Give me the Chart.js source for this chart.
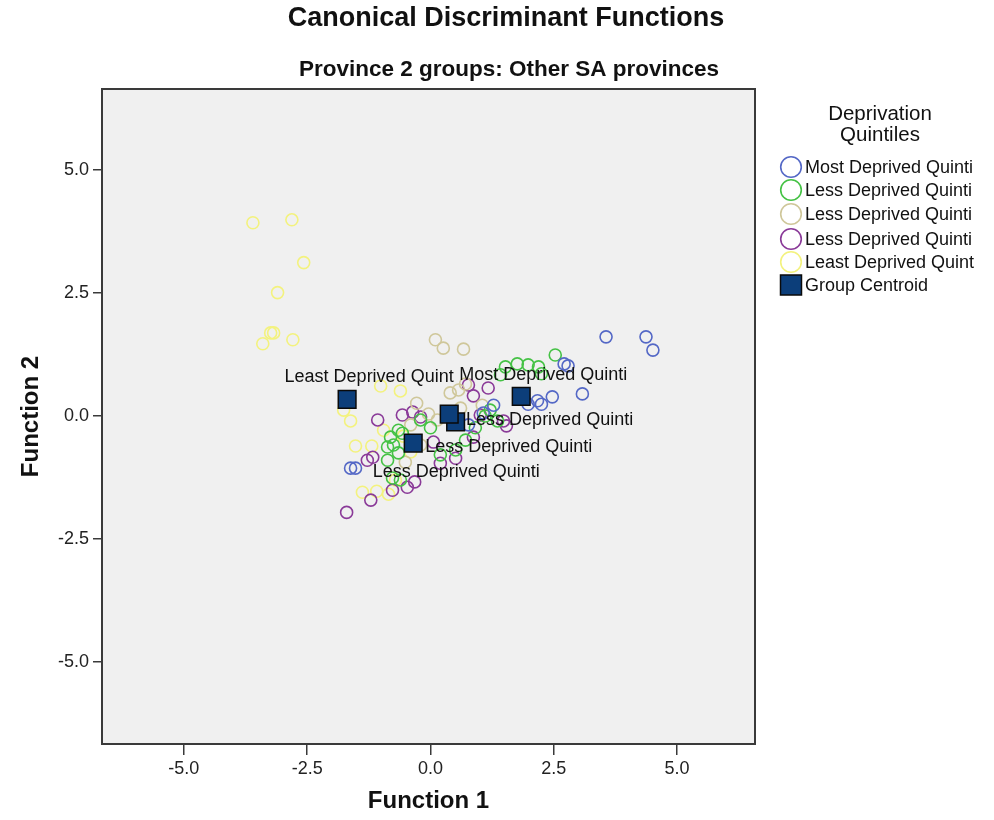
<!DOCTYPE html>
<html>
<head>
<meta charset="utf-8">
<title>Canonical Discriminant Functions</title>
<script src="https://cdn.jsdelivr.net/npm/chart.js@4/dist/chart.umd.min.js"></script>
<style>
  html, body { margin: 0; padding: 0; background: #ffffff; }
  #wrap { width: 994px; height: 820px; position: relative; }
  canvas { display: block; }
</style>
</head>
<body>
<div id="wrap"><canvas id="chart" width="994" height="820"></canvas></div>
<script>
// Discriminant scores per deprivation quintile (Function 1 = x, Function 2 = y)
const seriesNames = [
  'Most Deprived Quinti',
  'Less Deprived Quinti',
  'Less Deprived Quinti',
  'Less Deprived Quinti',
  'Least Deprived Quint'
];

const mostX = [3.56, 4.37, 4.51, 2.71, 2.79, 3.08, 2.47, 2.17, 2.25, 1.28, 1.07, 0.77, -1.62, -1.52, 1.98];
const mostY = [1.61, 1.61, 1.34, 1.06, 1.02, 0.45, 0.39, 0.31, 0.24, 0.22, 0.06, -0.18, -1.06, -1.06, 0.24];

const q2X = [2.53, 1.52, 1.76, 1.98, 2.19, 2.25, 1.42, 1.21, 1.11, 1.36, 0.91, 0.20, 0.00, -0.57, -0.81, -0.65, -0.87, -0.75, -0.65, -0.87, -0.77, -0.61, 0.71, 0.51, -0.20];
const q2Y = [1.24, 1.00, 1.06, 1.04, 1.00, 0.86, 0.84, 0.12, 0.00, -0.10, -0.24, -0.79, -0.24, -0.35, -0.43, -0.29, -0.63, -0.59, -0.75, -0.90, -1.26, -1.30, -0.49, -0.69, -0.08];

const q3X = [0.10, 0.26, 0.67, 0.40, 0.57, 0.71, -0.28, -0.04, 0.14, -0.40, -0.20, 1.05, -0.51, 0.61];
const q3Y = [1.55, 1.38, 1.36, 0.47, 0.53, 0.65, 0.26, 0.04, -0.08, -0.18, -0.59, 0.22, -0.94, 0.16];

const q4X = [0.77, 1.17, 0.87, -1.07, -0.57, -0.36, -0.20, 0.06, 1.48, 1.54, 0.87, -1.28, -1.17, 0.20, 0.51, -0.47, -0.32, -0.77, -1.21, -1.70, 1.01];
const q4Y = [0.63, 0.57, 0.41, -0.08, 0.02, 0.08, -0.02, -0.53, -0.10, -0.20, -0.43, -0.90, -0.84, -0.96, -0.86, -1.45, -1.34, -1.51, -1.71, -1.96, 0.02];

const leastX = [-3.60, -2.81, -2.57, -3.10, -3.24, -3.18, -3.40, -2.79, -1.01, -0.61, -1.62, -0.95, -1.52, -1.19, -1.38, -1.09, -0.85, -0.71, -0.55, -0.40, -1.76];
const leastY = [3.93, 3.99, 3.12, 2.51, 1.69, 1.69, 1.47, 1.55, 0.61, 0.51, -0.10, -0.29, -0.61, -0.61, -1.55, -1.53, -1.59, -1.30, -0.41, -0.73, 0.12];

// Group centroids, in the same order as seriesNames
const centroidName = 'Group Centroid';
const centroidX = [1.84, 0.51, 0.38, -0.35, -1.69];
const centroidY = [0.40, -0.12, 0.04, -0.55, 0.34];
const centroidLabels = seriesNames;

// Axis tick values
const tickValues = [-5, -2.5, 0, 2.5, 5];

// ---------------------------------------------------------------------
const FONT = "'Liberation Sans', Arial, Helvetica, sans-serif";
const colors = ['#5468c6', '#45c245', '#cfc79a', '#8a3a98', '#f3f27e'];
const centroidFill = '#0c3e7a';

const zip = (xs, ys) => xs.map((x, i) => ({ x: x, y: ys[i] }));
const groupPoints = [zip(mostX, mostY), zip(q2X, q2Y), zip(q3X, q3Y), zip(q4X, q4Y), zip(leastX, leastY)];

const datasets = groupPoints.map((pts, i) => ({
  label: seriesNames[i],
  data: pts,
  pointStyle: 'circle',
  pointRadius: 6,
  pointBorderWidth: 1.6,
  borderColor: colors[i],
  pointBorderColor: colors[i],
  backgroundColor: 'rgba(0,0,0,0)',
  pointBackgroundColor: 'rgba(0,0,0,0)',
  order: 1
}));
datasets.push({
  label: centroidName,
  data: zip(centroidX, centroidY),
  pointStyle: 'rect',
  pointRadius: 12.5,
  pointBorderWidth: 1.5,
  pointBorderColor: '#0a0a0a',
  pointBackgroundColor: centroidFill,
  backgroundColor: centroidFill,
  borderColor: '#0a0a0a',
  order: -1
});

// Label placement around each centroid marker (pixels: centre x, text baseline)
const labelOffsets = [[22, -16], [94, 3], [7, 63], [95.5, 9], [22, -17]];

const plotPanel = {
  id: 'plotPanel',
  beforeDraw(chart) {
    const { ctx, chartArea: a } = chart;
    ctx.save();
    ctx.fillStyle = '#f0f0f0';
    ctx.fillRect(a.left, a.top, a.right - a.left, a.bottom - a.top);
    ctx.restore();
  },
  afterDatasetsDraw(chart) {
    const { ctx } = chart;
    const meta = chart.getDatasetMeta(chart.data.datasets.length - 1);
    ctx.save();
    ctx.font = '18px ' + FONT;
    ctx.fillStyle = '#111111';
    ctx.textAlign = 'center';
    ctx.textBaseline = 'alphabetic';
    meta.data.forEach((el, i) => {
      const off = labelOffsets[i];
      ctx.fillText(centroidLabels[i], el.x + off[0], el.y + off[1]);
    });
    ctx.restore();
  },
  afterDraw(chart) {
    const { ctx, chartArea: a } = chart;
    ctx.save();
    // frame around the plot panel
    ctx.strokeStyle = '#3a3a3a';
    ctx.lineWidth = 2;
    ctx.strokeRect(a.left, a.top, a.right - a.left, a.bottom - a.top);

    // titles
    ctx.fillStyle = '#111111';
    ctx.textAlign = 'center';
    ctx.textBaseline = 'middle';
    ctx.font = 'bold 27px ' + FONT;
    ctx.fillText('Canonical Discriminant Functions', 506, 19);
    ctx.font = 'bold 22.5px ' + FONT;
    ctx.fillText('Province 2 groups: Other SA provinces', 509, 70);

    // legend
    ctx.font = '20.5px ' + FONT;
    ctx.textBaseline = 'alphabetic';
    ctx.fillText('Deprivation', 880, 120);
    ctx.fillText('Quintiles', 880, 141);

    const itemY = [167, 190, 214, 239, 262, 285];
    const mx = 791;
    ctx.font = '18px ' + FONT;
    ctx.textAlign = 'left';
    ctx.textBaseline = 'middle';
    chart.data.datasets.forEach((ds, i) => {
      const y = itemY[i];
      if (ds.pointStyle === 'rect') {
        ctx.fillStyle = ds.pointBackgroundColor;
        ctx.fillRect(mx - 10.5, y - 10, 21, 20);
        ctx.strokeStyle = '#0a0a0a';
        ctx.lineWidth = 1.5;
        ctx.strokeRect(mx - 10.5, y - 10, 21, 20);
      } else {
        ctx.beginPath();
        ctx.arc(mx, y, 10.3, 0, Math.PI * 2);
        ctx.strokeStyle = ds.pointBorderColor;
        ctx.lineWidth = 1.6;
        ctx.stroke();
      }
      ctx.fillStyle = '#111111';
      ctx.fillText(ds.label, 805, y + 1);
    });
    ctx.restore();
  }
};

const tickFont = { family: FONT, size: 18 };
const axisTitleFont = { family: FONT, size: 24, weight: 'bold' };

new Chart(document.getElementById('chart'), {
  type: 'scatter',
  data: { datasets: datasets },
  options: {
    responsive: false,
    animation: false,
    events: [],
    layout: { padding: { top: 89, right: 239, left: 0, bottom: 0 } },
    plugins: {
      legend: { display: false },
      title: { display: false },
      tooltip: { enabled: false }
    },
    scales: {
      x: {
        type: 'linear',
        min: -6.66,
        max: 6.58,
        afterBuildTicks: (s) => { s.ticks = tickValues.map(v => ({ value: v })); },
        afterFit: (s) => { s.height = 76; },
        ticks: {
          autoSkip: false,
          maxRotation: 0,
          padding: 3,
          color: '#222222',
          font: tickFont,
          callback: (v) => Number(v).toFixed(1)
        },
        grid: { drawOnChartArea: false, drawTicks: true, tickLength: 11, color: '#3a3a3a', lineWidth: 1.5 },
        border: { display: false },
        title: { display: true, text: 'Function 1', color: '#111111', font: axisTitleFont, padding: { top: 0, bottom: 4 } }
      },
      y: {
        type: 'linear',
        min: -6.67,
        max: 6.65,
        afterBuildTicks: (s) => { s.ticks = tickValues.map(v => ({ value: v })); },
        afterFit: (s) => { s.width = 102; },
        ticks: {
          autoSkip: false,
          padding: 4,
          color: '#222222',
          font: tickFont,
          callback: (v) => Number(v).toFixed(1)
        },
        grid: { drawOnChartArea: false, drawTicks: true, tickLength: 9, color: '#3a3a3a', lineWidth: 1.5 },
        border: { display: false },
        title: { display: true, text: 'Function 2', color: '#111111', font: axisTitleFont, padding: { top: 17, bottom: 0 } }
      }
    }
  },
  plugins: [plotPanel]
});
</script>
</body>
</html>
